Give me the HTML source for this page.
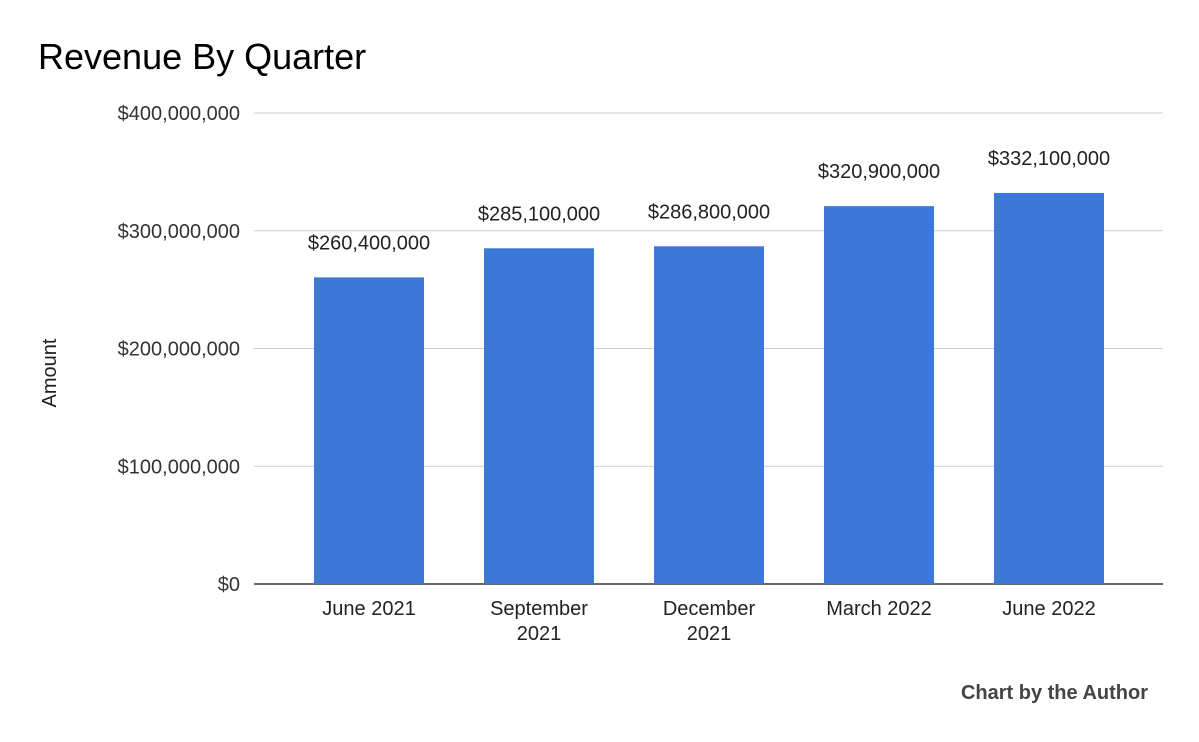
<!DOCTYPE html>
<html><head><meta charset="utf-8"><style>
body{margin:0;background:#fff;}
svg{display:block;font-family:"Liberation Sans",Arial,sans-serif;}
</style></head><body>
<svg id="chart" width="1199" height="742">
<text x="38" y="69" font-size="36" fill="#000">Revenue By Quarter</text>
<text x="56" y="373" font-size="20" fill="#222" transform="rotate(-90 56 373)" text-anchor="middle">Amount</text>
<text x="1148" y="699" font-size="20" font-weight="bold" fill="#444" text-anchor="end">Chart by the Author</text>
<g id="grid"></g><g id="bars"></g><g id="labels"></g>
</svg>
<script>
const categories=[["June 2021"],["September","2021"],["December","2021"],["March 2022"],["June 2022"]];
const values=[260400000,285100000,286800000,320900000,332100000];
const valueLabels=["$260,400,000","$285,100,000","$286,800,000","$320,900,000","$332,100,000"];
const ticks=[0,100000000,200000000,300000000,400000000];
const tickLabels=["$0","$100,000,000","$200,000,000","$300,000,000","$400,000,000"];
const NS="http://www.w3.org/2000/svg";
const y0=584,yTop=113,maxV=400000000;
const y=v=>y0-(v/maxV)*(y0-yTop);
const x=i=>369+i*170;
const bw=110;
function mk(t,a,p,txt){const e=document.createElementNS(NS,t);for(const k in a)e.setAttribute(k,a[k]);if(txt!==undefined)e.textContent=txt;p.appendChild(e);return e;}
const grid=document.getElementById('grid'),bars=document.getElementById('bars'),labels=document.getElementById('labels');
ticks.forEach((t,i)=>{
 const l=mk('line',{x1:254,x2:1163,y1:y(t),y2:y(t),stroke:i==0?'#333':'#ccc','stroke-width':i==0?1.5:1},grid);
 
 
 const tx=mk('text',{x:240,y:y(t)+7,'font-size':20,fill:'#333','text-anchor':'end'},grid,tickLabels[i]);
 
 
});
values.forEach((v,i)=>{
 const r=mk('rect',{x:x(i)-bw/2,y:y(v),width:bw,height:y0-y(v),fill:'#3c78d8'},bars);
 
 
 const t=mk('text',{x:x(i),y:y(v)-28,'font-size':20,fill:'#222','text-anchor':'middle'},labels,valueLabels[i]);
 
 
 categories[i].forEach((s,j)=>{
  const c=mk('text',{x:x(i),y:615+j*25,'font-size':20,fill:'#222','text-anchor':'middle'},labels,s);
  
  
 });
});
</script>
</body></html>
